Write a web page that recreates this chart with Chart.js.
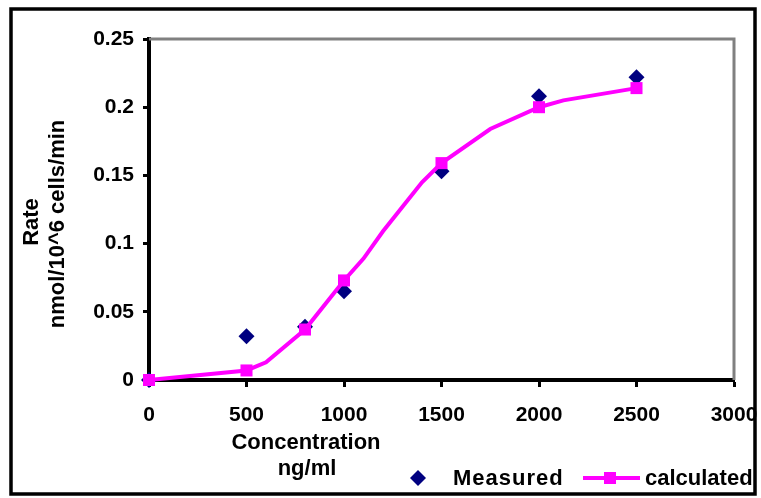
<!DOCTYPE html>
<html>
<head>
<meta charset="utf-8">
<script src="https://cdn.jsdelivr.net/npm/chart.js@4.4.1/dist/chart.umd.min.js"></script>
<style>
  html, body { margin: 0; padding: 0; background: #fff; }
  #wrap { width: 761px; height: 498px; position: relative; }
</style>
</head>
<body>
<div id="wrap"><canvas id="rateChart" width="761" height="498"></canvas></div>
<script>
// measured points
const measuredX = [0, 500, 800, 1000, 1500, 2000, 2500];
const measuredY = [0, 0.032, 0.039, 0.065, 0.153, 0.208, 0.222];

// calculated curve (markers only where there is a measurement)
const calcX = [0, 500, 600, 800, 1000, 1100, 1200, 1300, 1400, 1500, 1750, 2000, 2125, 2500];
const calcY = [0, 0.007, 0.013, 0.037, 0.073, 0.089, 0.109, 0.127, 0.145, 0.159, 0.184, 0.2, 0.205, 0.214];

const xTicks = [0, 500, 1000, 1500, 2000, 2500, 3000];
const yTicks = [0, 0.05, 0.1, 0.15, 0.2, 0.25];

const xTitle = ['Concentration', 'ng/ml'];
const yTitle = ['Rate', 'nmol/10^6 cells/min'];
const legendLabels = ['Measured', 'calculated'];

const NAVY = '#000080';
const MAGENTA = '#ff00ff';
const FONT = '"Liberation Sans", Arial, sans-serif';

const toXY = (xs, ys) => xs.map((x, i) => ({ x: x, y: ys[i] }));
const calcRadius = calcX.map(x => measuredX.includes(x) ? 8.5 : 0);

// frame, top/right plot border, axis titles and legend
const decor = {
    id: 'decor',
    beforeDraw(chart) {
        const c = chart.ctx;
        c.save();
        c.fillStyle = '#fff';
        c.fillRect(0, 0, chart.width, chart.height);
        c.restore();
    },
    afterDraw(chart) {
        const c = chart.ctx;
        const a = chart.chartArea;
        c.save();
        // outer frame
        c.strokeStyle = '#000';
        c.lineWidth = 3.5;
        c.strokeRect(11, 9, 744, 485);
        // grey top and right edge of the plot
        c.strokeStyle = '#808080';
        c.lineWidth = 3;
        c.beginPath();
        c.moveTo(a.left, a.top);
        c.lineTo(a.right, a.top);
        c.lineTo(a.right, a.bottom);
        c.stroke();

        c.fillStyle = '#000';
        c.font = 'bold 22px ' + FONT;
        c.textAlign = 'center';
        c.textBaseline = 'alphabetic';
        // x title
        c.fillText(xTitle[0], 306, 449);
        c.fillText(xTitle[1], 307, 475);
        // y title
        c.save();
        c.translate(38, 222);
        c.rotate(-Math.PI / 2);
        c.fillText(yTitle[0], 0, 0);
        c.restore();
        c.save();
        c.translate(64, 224);
        c.rotate(-Math.PI / 2);
        c.fillText(yTitle[1], 0, 0);
        c.restore();

        // legend
        c.textAlign = 'left';
        c.fillStyle = NAVY;
        c.beginPath();
        c.moveTo(418, 470); c.lineTo(426, 478); c.lineTo(418, 486); c.lineTo(410, 478);
        c.closePath();
        c.fill();
        c.fillStyle = '#000';
        c.letterSpacing = '1px';
        c.fillText(legendLabels[0], 453, 485);
        c.strokeStyle = MAGENTA;
        c.lineWidth = 4;
        c.beginPath();
        c.moveTo(583, 478); c.lineTo(640, 478);
        c.stroke();
        c.fillStyle = MAGENTA;
        c.fillRect(604, 472, 12, 12);
        c.fillStyle = '#000';
        c.letterSpacing = '0px';
        c.fillText(legendLabels[1], 645, 485);
        c.restore();
    }
};

const ctx = document.getElementById('rateChart').getContext('2d');
const rateChart = new Chart(ctx, {
    type: 'scatter',
    data: {
        datasets: [{
            label: legendLabels[1],
            data: toXY(calcX, calcY),
            showLine: true,
            clip: false,
            borderColor: MAGENTA,
            backgroundColor: MAGENTA,
            borderWidth: 4,
            pointStyle: 'rect',
            pointRadius: calcRadius,
            pointHoverRadius: calcRadius,
            pointBorderWidth: 0,
            tension: 0
        }, {
            label: legendLabels[0],
            data: toXY(measuredX, measuredY),
            clip: false,
            backgroundColor: NAVY,
            borderColor: NAVY,
            pointStyle: 'rectRot',
            pointRadius: 8,
            pointBorderWidth: 0
        }]
    },
    options: {
        responsive: false,
        animation: false,
        layout: { padding: { left: 0, top: 39, right: 27, bottom: 0 } },
        plugins: {
            legend: { display: false },
            tooltip: { enabled: false }
        },
        scales: {
            x: {
                type: 'linear',
                min: 0,
                max: 3000,
                afterFit: s => { s.height = 118; s.paddingRight = 0; s.paddingLeft = 0; },
                afterBuildTicks: s => { s.ticks = xTicks.map(v => ({ value: v })); },
                border: { color: '#000', width: 4 },
                grid: { drawOnChartArea: false, drawTicks: true, tickLength: 7, tickWidth: 3, tickColor: '#000' },
                ticks: {
                    color: '#000',
                    padding: 16,
                    maxRotation: 0,
                    font: { family: FONT, size: 21, weight: 'bold' },
                    callback: v => String(v)
                }
            },
            y: {
                type: 'linear',
                min: 0,
                max: 0.25,
                afterFit: s => { s.width = 149; },
                afterBuildTicks: s => { s.ticks = yTicks.map(v => ({ value: v })); },
                border: { color: '#000', width: 4 },
                grid: { drawOnChartArea: false, drawTicks: true, tickLength: 6, tickWidth: 3, tickColor: '#000' },
                ticks: {
                    color: '#000',
                    padding: 9,
                    font: { family: FONT, size: 21, weight: 'bold' },
                    callback: v => String(v)
                }
            }
        }
    },
    plugins: [decor]
});
</script>
</body>
</html>
